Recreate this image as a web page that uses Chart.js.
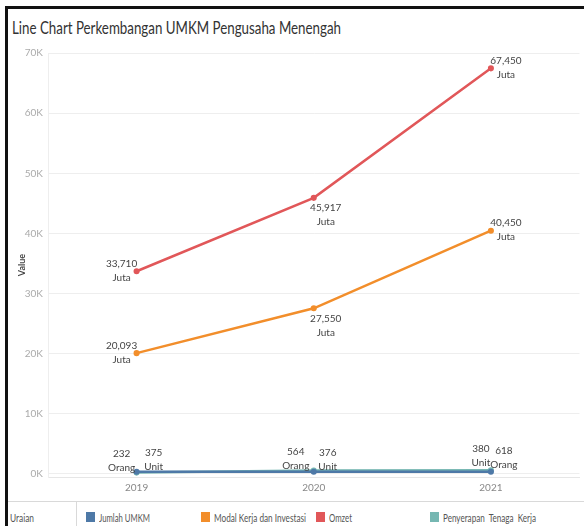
<!DOCTYPE html>
<html>
<head>
<meta charset="utf-8">
<script src="https://cdn.jsdelivr.net/npm/chart.js@4.4.1/dist/chart.umd.min.js"></script>
<style>
  html, body { margin: 0; padding: 0; background: #fff; }
  #wrap { position: relative; width: 584px; height: 526px; overflow: hidden; background: #fff;
          font-family: Lato, "Open Sans", sans-serif; }
  #bl { position: absolute; left: 5px; top: 6px; width: 3px; height: 520px; background: #111; }
  #bt { position: absolute; left: 5px; top: 6px; width: 579px; height: 3px; background: #111; }
  #title { position: absolute; left: 12px; top: 17px; font-size: 17px; color: #333; white-space: nowrap; transform-origin: 0 0; }
  #cv { position: absolute; left: 8px; top: 40px; }
  #sep { position: absolute; left: 8px; top: 501px; width: 576px; height: 1px; background: #d9d9d9; }
  #vsep { position: absolute; left: 76px; top: 502px; width: 1px; height: 24px; background: #d9d9d9; }
  .lg { position: absolute; top: 512px; font-size: 10.5px; color: #555; white-space: nowrap; line-height: 12px; transform-origin: 0 0; }
  .sq { position: absolute; top: 512px; width: 9px; height: 10px; }
</style>
</head>
<body>
<div id="wrap">
  <div id="bl"></div><div id="bt"></div>
  <div id="title">Line Chart Perkembangan UMKM Pengusaha Menengah</div>
  <canvas id="cv" width="576" height="460"></canvas>
  <div id="sep"></div><div id="vsep"></div>
  <div id="legend"></div>
</div>
<script>
const categories = ['2019', '2020', '2021'];
const jumlahUMKM = [375, 376, 380];
const modalKerja = [20093, 27550, 40450];
const omzet = [33710, 45917, 67450];
const penyerapan = [232, 564, 618];
const units = { jumlah: 'Unit', modal: 'Juta', omzet: 'Juta', penyerapan: 'Orang' };
const yTicks = [0, 10000, 20000, 30000, 40000, 50000, 60000, 70000];
const seriesNames = ['Jumlah UMKM', 'Modal Kerja dan Investasi', 'Omzet', 'Penyerapan  Tenaga  Kerja'];

const colors = { jumlah: '#4e79a7', modal: '#f28e2b', omzet: '#e15759', penyerapan: '#76b7b2' };
// label placement: [dx, dy of first line] per point
const labelPlacement = {
  jumlah: [[17, -19], [14, -19], [-10, -23]],
  modal: [[-15, -7], [12, 10], [15, -8]],
  omzet: [[-15, -7], [12, 10], [15, -8]],
  penyerapan: [[-15, -19], [-18, -19], [13, -19]]
};
const FONT = 'Lato, "Open Sans", sans-serif';

function fmt(v) { return v.toLocaleString('en-US'); }

const labelPlugin = {
  id: 'pointLabels',
  afterDatasetsDraw(chart) {
    const ctx = chart.ctx;
    ctx.save();
    ctx.font = '10px ' + FONT;
    ctx.fillStyle = '#444';
    ctx.textAlign = 'center';
    ctx.textBaseline = 'middle';
    chart.data.datasets.forEach((ds, i) => {
      const meta = chart.getDatasetMeta(i);
      meta.data.forEach((pt, j) => {
        const [dx, dy] = labelPlacement[ds.key][j];
        ctx.fillText(fmt(ds.data[j]), pt.x + dx, pt.y + dy);
        ctx.fillText(units[ds.key], pt.x + dx, pt.y + dy + 14);
      });
    });
    ctx.restore();
  }
};

function mk(key, label, data) {
  return { key, label, data, borderColor: colors[key], backgroundColor: colors[key],
           borderWidth: 2.5, pointRadius: 1.8, pointHoverRadius: 2, tension: 0 };
}

new Chart(document.getElementById('cv'), {
  type: 'line',
  data: {
    labels: categories,
    datasets: [
      mk('jumlah', seriesNames[0], jumlahUMKM),
      mk('modal', seriesNames[1], modalKerja),
      mk('omzet', seriesNames[2], omzet),
      mk('penyerapan', seriesNames[3], penyerapan)
    ]
  },
  options: {
    responsive: false,
    animation: false,
    events: [],
    layout: { padding: { left: 9, right: 4, top: 13, bottom: 0 } },
    plugins: { legend: { display: false }, tooltip: { enabled: false }, title: { display: false } },
    scales: {
      x: {
        offset: true,
        grid: { display: false, drawTicks: false },
        border: { color: '#e6e6e6' },
        ticks: { color: '#888', font: { size: 10, family: FONT }, padding: 5 },
        afterFit(s) { s.height = 23; }
      },
      y: {
        min: -500, max: 70000,
        afterBuildTicks(s) { s.ticks = yTicks.map(v => ({ value: v })); },
        grid: { color: '#eeeeee', drawTicks: false },
        border: { color: '#eeeeee' },
        ticks: { color: '#aaa', padding: 5, font: { size: 10, family: FONT },
                 callback: v => (v / 1000) + 'K' },
        title: { display: true, text: 'Value', color: '#444', padding: { top: 0, bottom: 0 },
                 font: { size: 9, weight: 'bold', family: FONT } },
        afterFit(s) { s.width = 31; }
      }
    }
  },
  plugins: [labelPlugin]
});

function fitWidth(el, w) {
  const actual = el.getBoundingClientRect().width;
  if (actual > 0) el.style.transform = 'scaleX(' + (w / actual) + ')';
}

// legend
const lg = document.getElementById('legend');
const keys = ['jumlah', 'modal', 'omzet', 'penyerapan'];
const sqX = [86, 201, 316, 430];
const textW = [51, 92, 23, 93];
let html = '<div class="lg" id="lgU" style="left:10px">Uraian</div>';
keys.forEach((k, i) => {
  html += '<div class="sq" style="left:' + sqX[i] + 'px;background:' + colors[k] + '"></div>';
  html += '<div class="lg" id="lg' + i + '" style="left:' + (sqX[i] + 13) + 'px">' + seriesNames[i].replace(/ /g, '&nbsp;') + '</div>';
});
lg.innerHTML = html;
fitWidth(document.getElementById('lgU'), 24);
keys.forEach((k, i) => fitWidth(document.getElementById('lg' + i), textW[i]));
fitWidth(document.getElementById('title'), 329);
</script>
</body>
</html>
